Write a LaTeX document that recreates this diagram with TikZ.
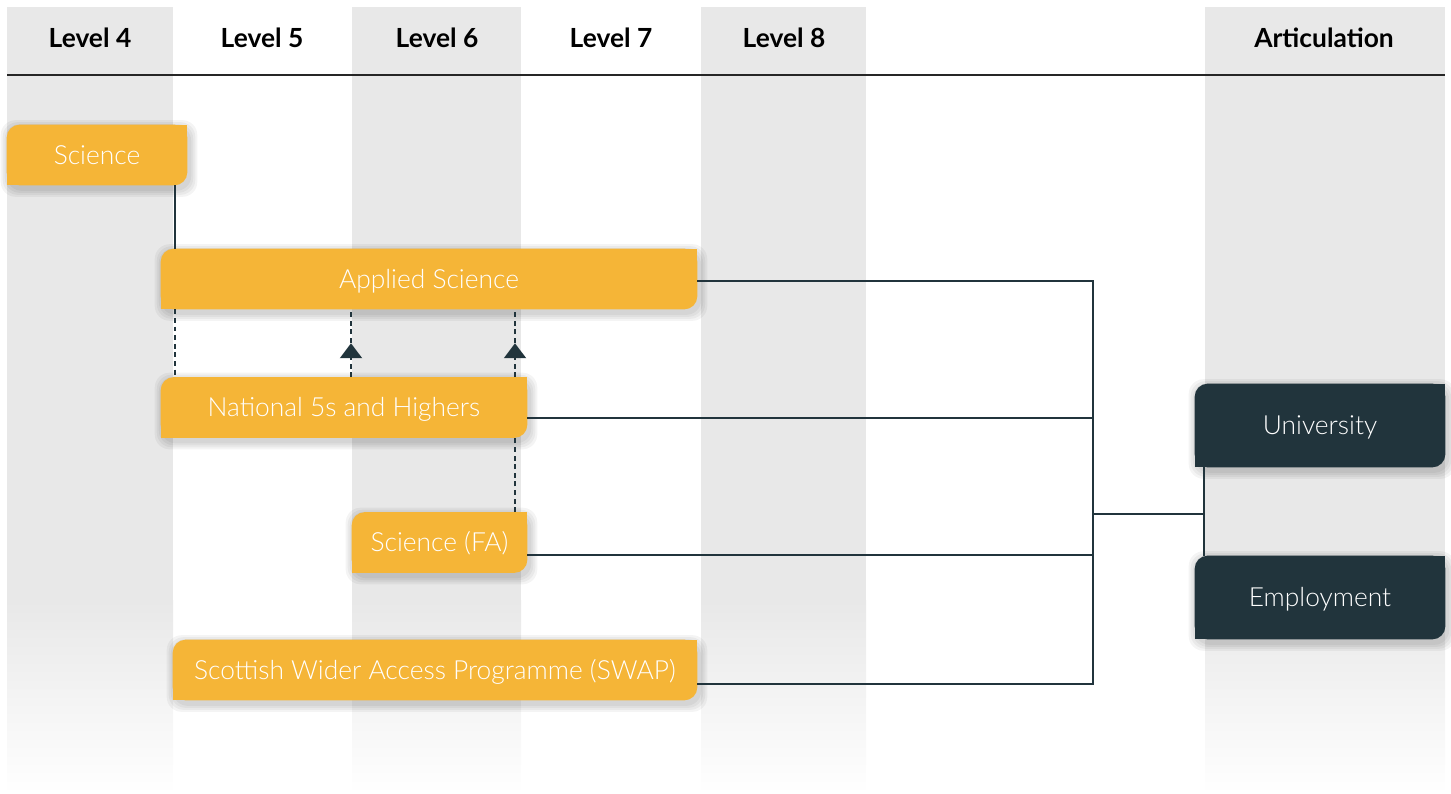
\documentclass[tikz,border=0pt]{standalone}
\usepackage{fontspec}
\setmainfont{Lato}
\newfontfamily\lightfont{Lato Light}
\usetikzlibrary{arrows.meta,positioning,calc,decorations.markings}
\definecolor{boxorange}{HTML}{F5B537}
\definecolor{boxdark}{HTML}{21343C}
\definecolor{stripegray}{HTML}{E8E8E8}
\pgfdeclarelayer{back}
\pgfdeclarelayer{boxes}
\pgfsetlayers{back,boxes,main}

\begin{document}
\begin{tikzpicture}[x=0.02cm,y=-0.02cm,>=Latex,
  head/.style={font=\fontsize{15}{18}\selectfont\bfseries,text height=10.8pt,text depth=0pt},
  stage/.style={minimum height=1.2cm,inner sep=0pt,text=white,text height=10.8pt,text depth=0pt,font=\lightfont\fontsize{15}{18}\selectfont},
  exit/.style={stage,minimum width=5cm,minimum height=1.66cm},
  link/.style={draw=boxdark,line width=1.1pt},
  dashlink/.style={link,line width=1.2pt,dash pattern=on 2.8pt off 2.1pt},
  midarrow/.style={postaction={decorate},decoration={markings,mark=at position 0.5 with {\arrow[boxdark]{Triangle[width=0.44cm,length=0.3cm]}}}}]
\useasboundingbox (0,0) rectangle (1451,794);
% columns
\begin{pgfonlayer}{back}
\foreach \a/\b in {7/173,352/521,701/866,1205/1445} {
  \fill[stripegray] (\a,7) rectangle (\b,601);
  \shade[top color=stripegray,bottom color=white] (\a,600) rectangle (\b,794);
}
\end{pgfonlayer}
\node[head] (h4) at (90,38) {Level 4};
\node[head] (h5) at (262,38) {Level 5};
\node[head] (h6) at (437,38) {Level 6};
\node[head] (h7) at (611,38) {Level 7};
\node[head] (h8) at (784,38) {Level 8};
\node[head] (hart) at (1324,38) {Articulation};
\draw[black!85,line width=0.8pt] (7,75) -- (1445,75);
% stages
\node[stage,minimum width=3.6cm] (sci) at (97,155) {Science};
\node[stage,minimum width=10.72cm] (app) at (429,279) {Applied Science};
\node[stage,minimum width=7.32cm] (nat) at (344,407.5) {National 5s and Highers};
\node[stage,minimum width=3.5cm] (fa) at (439.5,542.5) {Science (FA)};
\node[stage,minimum width=10.48cm] (swap) at (435,670) {Scottish Wider Access Programme (SWAP)};
\node[exit] (uni) at (1320,425.5) {University};
\node[exit] (emp) at (1320,597.5) {Employment};
\begin{pgfonlayer}{boxes}
\foreach \n/\c in {sci/boxorange,app/boxorange,nat/boxorange,fa/boxorange,swap/boxorange,uni/boxdark,emp/boxdark} {
  \foreach \k in {1,...,4}
    \fill[black,opacity=0.045,rounded corners=0.3cm] ([xshift={(0.04-0.04*\k)*1cm},yshift={(-0.07-0.04*\k)*1cm}]\n.south west) rectangle ([xshift={(0.04+0.04*\k)*1cm},yshift={(-0.07+0.04*\k)*1cm}]\n.north east);
  \fill[\c,rounded corners=0.26cm] (\n.south west) rectangle (\n.north east);
  \fill[\c] (\n.south west) rectangle ([shift={(0.3cm,0.3cm)}]\n.south west);
  \fill[\c] ([shift={(-0.3cm,-0.3cm)}]\n.north east) rectangle (\n.north east);
}
\end{pgfonlayer}
% connectors
\coordinate (xa) at (175,0);
\coordinate (xb) at (351,0);
\coordinate (xc) at (515,0);
\coordinate (xj) at (1093,0);
\coordinate (xk) at (1204,0);
\coordinate (appR) at ([yshift=-0.04cm]app.east);
\coordinate (natR) at ([yshift=-0.21cm]nat.east);
\coordinate (faR) at ([yshift=-0.25cm]fa.east);
\coordinate (swapR) at ([yshift=-0.28cm]swap.east);
\coordinate (join) at ([yshift=-0.05cm]$(uni.south)!0.5!(emp.north)$);
\draw[link] (sci.south -| xa) -- (app.north -| xa);
\draw[dashlink] (app.south -| xa) -- (nat.north -| xa);
\draw[dashlink,midarrow] (nat.north -| xb) -- (app.south -| xb);
\draw[dashlink,midarrow] (nat.north -| xc) -- (app.south -| xc);
\draw[dashlink] (fa.north -| xc) -- (nat.south -| xc);
\draw[link] (appR) -| (swapR -| xj) -- (swapR);
\draw[link] (natR) -- (natR -| xj);
\draw[link] (faR) -- (faR -| xj);
\draw[link] (uni.south -| xk) -- (emp.north -| xk);
\draw[link] (join -| xj) -- (join -| xk);
\end{tikzpicture}
\end{document}
